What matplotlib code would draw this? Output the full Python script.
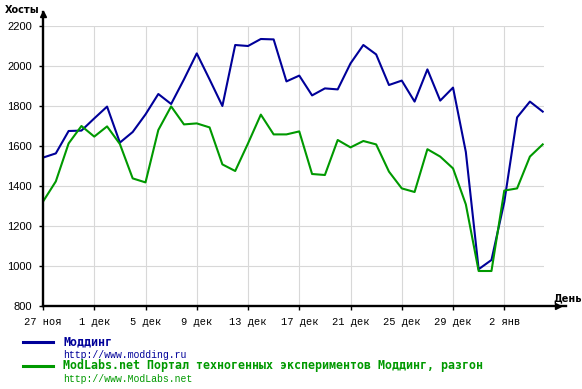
import numpy as np
import matplotlib
matplotlib.use("Agg")
import matplotlib.pyplot as plt
from matplotlib.lines import Line2D

# daily hosts, 27 Nov .. 5 Jan
modding = [1542, 1563, 1675, 1677, 1738, 1797, 1617, 1670, 1758, 1860,
           1810, 1933, 2063, 1933, 1800, 2105, 2100, 2135, 2133, 1923,
           1952, 1853, 1888, 1883, 2013, 2105, 2058, 1905, 1927, 1822,
           1983, 1827, 1892, 1570, 984, 1030, 1320, 1743, 1822, 1772]
modlabs = [1322, 1423, 1613, 1700, 1647, 1698, 1610, 1438, 1418, 1680,
           1798, 1708, 1713, 1693, 1508, 1475, 1613, 1757, 1658, 1658,
           1673, 1460, 1455, 1630, 1593, 1625, 1608, 1472, 1388, 1370,
           1584, 1547, 1488, 1308, 975, 975, 1377, 1388, 1547, 1608]
tick_days = [0, 4, 8, 12, 16, 20, 24, 28, 32, 36]
tick_labels = ['27 ноя', '1 дек', '5 дек', '9 дек', '13 дек', '17 дек',
               '21 дек', '25 дек', '29 дек', '2 янв']
y_ticks = [800, 1000, 1200, 1400, 1600, 1800, 2000, 2200]

names = ['Моддинг', 'ModLabs.net Портал техногенных экспериментов Моддинг, разгон']
urls = ['http://www.modding.ru', 'http://www.ModLabs.net']
colors = ['#000099', '#009900']

W, H = 582, 389
fig = plt.figure(figsize=(W / 100, H / 100), dpi=100)

def fx(x):
    return x / W

def fy(y):
    return 1 - y / H

ax = fig.add_axes([fx(43), fy(306), fx(544) - fx(43), fy(26) - fy(306)])
days = np.arange(len(modding))
ax.plot(days, modding, color=colors[0], lw=1.5, zorder=3)
ax.plot(days, modlabs, color=colors[1], lw=1.5, zorder=3)

ax.set_xlim(0, 39.1)
ax.set_ylim(800, 2200)
ax.set_xticks(tick_days)
ax.set_xticklabels(tick_labels, family='Liberation Mono', fontsize=7.5)
ax.set_yticks(y_ticks)
ax.set_yticklabels([str(v) for v in y_ticks], family='Liberation Sans', fontsize=8)
ax.tick_params(length=3, width=1, color='black', pad=5)
ax.grid(True, color='#d8d8d8', lw=0.8, zorder=0)
ax.set_axisbelow(True)
for s in ax.spines.values():
    s.set_visible(False)

# axis lines with arrows
fig.add_artist(Line2D([fx(43), fx(566)], [fy(306), fy(306)], color='black', lw=1.7))
fig.add_artist(Line2D([fx(43), fx(43)], [fy(306), fy(12)], color='black', lw=1.7))
fig.add_artist(Line2D([fx(558)], [fy(306)], marker='>', color='black', ms=5, lw=0))
fig.add_artist(Line2D([fx(43)], [fy(14)], marker='^', color='black', ms=5, lw=0))
fig.text(fx(5), fy(10), 'Хосты', fontsize=7, fontweight='bold', va='center', ha='left')
fig.text(fx(553), fy(298), 'День', fontsize=7, fontweight='bold', va='center', ha='left')

# legend
for i, (n, u, c) in enumerate(zip(names, urls, colors)):
    yc = 342 + 24 * i
    fig.add_artist(Line2D([fx(23), fx(53)], [fy(yc), fy(yc)], color=c, lw=2.2))
    fig.text(fx(63), fy(yc), n, color=c, family='DejaVu Sans Mono', fontweight='bold',
             fontsize=8.4, va='center', ha='left')
    fig.text(fx(63), fy(yc + 12.5), u, color=c, family='Liberation Mono',
             fontsize=7.1, va='center', ha='left')

fig.savefig('out.png', dpi=100)
